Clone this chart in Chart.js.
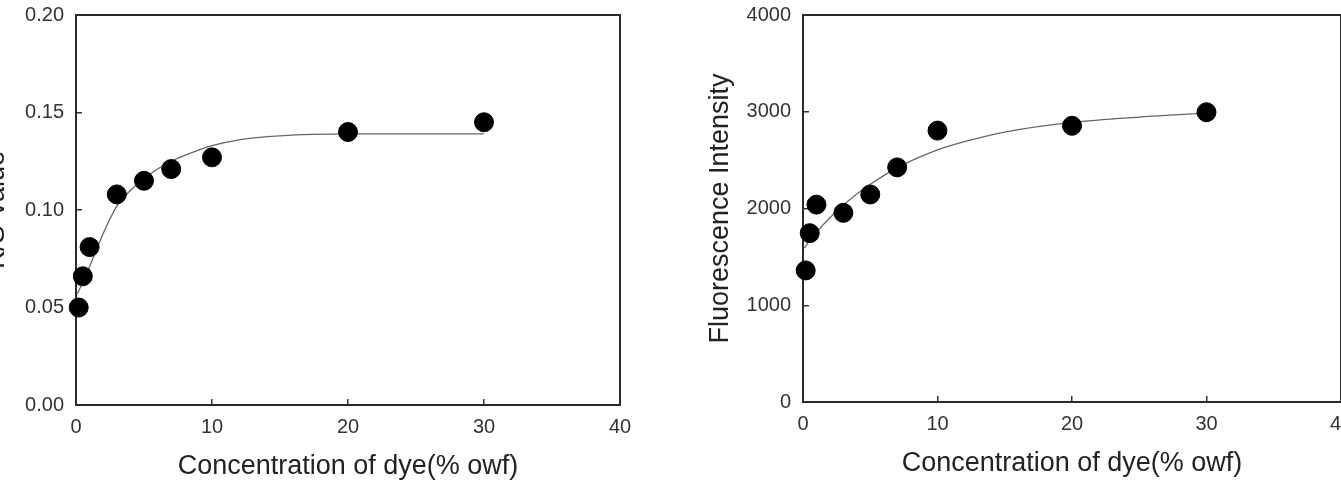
<!DOCTYPE html>
<html>
<head>
<meta charset="utf-8">
<script src="https://cdn.jsdelivr.net/npm/chart.js@4.4.0/dist/chart.umd.min.js"></script>
<style>
  html, body { margin: 0; padding: 0; background: #fff; overflow: hidden; width: 1341px; height: 484px; }
  canvas { position: absolute; top: 0; }
  #ksChart { left: -24px; }
  #flChart { left: 700px; }
</style>
</head>
<body>
<canvas id="ksChart" width="674" height="484"></canvas>
<canvas id="flChart" width="681" height="484"></canvas>
<script>
// measured points (dye concentration, % owf)
const dyeConc = [0.2, 0.5, 1, 3, 5, 7, 10, 20, 30];
const ksValues = [0.050, 0.066, 0.081, 0.108, 0.115, 0.121, 0.127, 0.140, 0.145];
const fluoValues = [1360, 1745, 2040, 1955, 2145, 2425, 2805, 2855, 2995];

// fitted curves
const ksCurveX = [0.1, 0.5, 1, 2, 3, 4, 5, 6, 7, 8, 10, 12, 15, 20, 25, 30];
const ksCurveY = [0.057, 0.063, 0.071, 0.088, 0.102, 0.110, 0.116, 0.121, 0.125, 0.128, 0.133, 0.136, 0.138, 0.139, 0.139, 0.139];
const fluoCurveX = [0.1, 0.5, 1, 2, 3, 4, 5, 7, 10, 12, 15, 20, 25, 30];
const fluoCurveY = [1590, 1670, 1755, 1905, 2035, 2150, 2250, 2420, 2605, 2690, 2790, 2890, 2945, 2985];

const xTicks = [0, 10, 20, 30, 40];
const ksTicks = [0, 0.05, 0.10, 0.15, 0.20];
const fluoTicks = [0, 1000, 2000, 3000, 4000];

const xTitle = 'Concentration of dye(% owf)';

Chart.defaults.font.family = "'Liberation Sans', Arial, sans-serif";
Chart.defaults.color = '#333';

const toPoints = (xs, ys) => xs.map((x, i) => ({ x: x, y: ys[i] }));

// draws the closed box round the plot area
const frame = {
  id: 'frame',
  beforeDatasetsDraw(chart) {
    const { ctx, chartArea } = chart;
    ctx.save();
    ctx.strokeStyle = '#2a2a2a';
    ctx.lineWidth = 2;
    ctx.strokeRect(chartArea.left, chartArea.top, chartArea.right - chartArea.left, chartArea.bottom - chartArea.top);
    ctx.restore();
  }
};

function makeChart(id, ys, curveX, curveY, yTicks, yTitle, fmt, opts) {
  const ctx = document.getElementById(id).getContext('2d');
  return new Chart(ctx, {
    type: 'scatter',
    data: {
      datasets: [
        {
          data: toPoints(dyeConc, ys),
          backgroundColor: '#000',
          borderColor: '#000',
          pointRadius: 9.5,
          pointHoverRadius: 9.5,
          clip: false
        },
        {
          data: toPoints(curveX, curveY),
          showLine: true,
          borderColor: '#666',
          borderWidth: 1.3,
          pointRadius: 0,
          cubicInterpolationMode: 'monotone',
          fill: false
        }
      ]
    },
    plugins: [frame],
    options: {
      responsive: false,
      animation: false,
      layout: { padding: { left: 0, top: 15, right: opts.padRight, bottom: 0 } },
      plugins: { legend: { display: false }, tooltip: { enabled: false } },
      scales: {
        x: {
          type: 'linear',
          min: 0,
          max: 40,
          afterBuildTicks: (s) => { s.ticks = xTicks.map(v => ({ value: v })); },
          afterFit: (s) => { s.height = opts.xHeight; s.paddingLeft = 0; s.paddingRight = 0; },
          border: { display: false },
          grid: { drawOnChartArea: false, drawTicks: true, tickLength: -6, color: '#333', lineWidth: 1.5 },
          ticks: { padding: 16, font: { size: 20 }, color: '#333', maxRotation: 0 },
          title: { display: true, text: xTitle, font: { size: 27 }, color: '#222', padding: { top: 0, bottom: opts.titlePad } }
        },
        y: {
          type: 'linear',
          min: yTicks[0],
          max: yTicks[yTicks.length - 1],
          afterBuildTicks: (s) => { s.ticks = yTicks.map(v => ({ value: v })); },
          afterFit: (s) => { s.width = opts.yWidth; s.paddingTop = 0; s.paddingBottom = 0; },
          border: { display: false },
          grid: { drawOnChartArea: false, drawTicks: true, tickLength: -6, color: '#333', lineWidth: 1.5 },
          ticks: { padding: 18, font: { size: 20 }, color: '#333', callback: fmt },
          title: { display: true, text: yTitle, font: { size: 27 }, color: '#222', padding: { top: 4, bottom: 0 } }
        }
      }
    }
  });
}

makeChart('ksChart', ksValues, ksCurveX, ksCurveY, ksTicks, 'K/S Value',
  (v) => Number(v).toFixed(2),
  { yWidth: 100, xHeight: 79, padRight: 30, titlePad: 1 });

makeChart('flChart', fluoValues, fluoCurveX, fluoCurveY, fluoTicks, 'Fluorescence Intensity',
  (v) => String(v),
  { yWidth: 103, xHeight: 82, padRight: 40, titlePad: 4 });
</script>
</body>
</html>
